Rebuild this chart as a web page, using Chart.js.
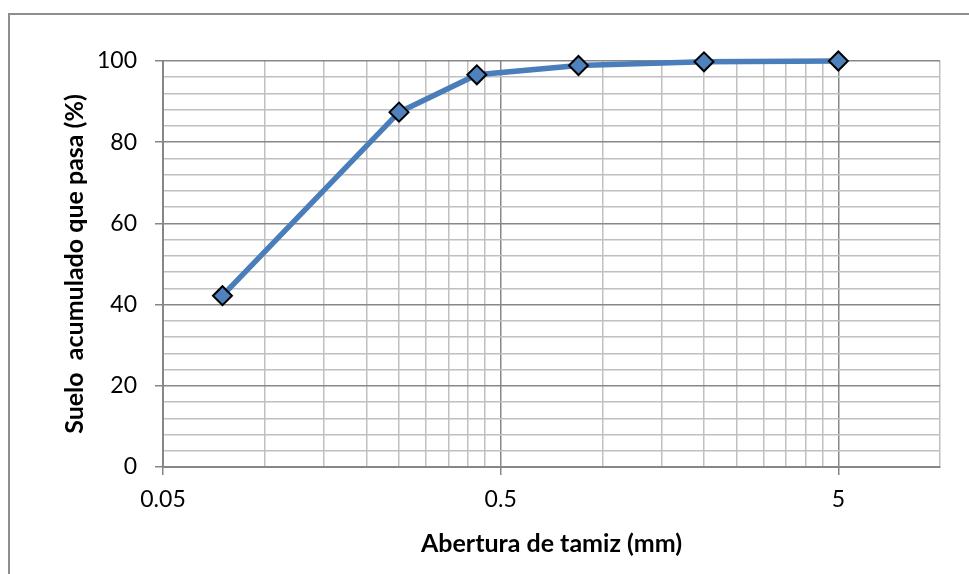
<!DOCTYPE html>
<html lang="es">
  <head>
    <meta charset="UTF-8" />
    <title>Curva granulométrica</title>
    <style>
      * {
        margin: 0;
        padding: 0;
        box-sizing: border-box;
      }

      body {
        width: 969px;
        height: 574px;
        overflow: hidden;
        background: #ffffff;
        position: relative;
      }

      .marco {
        position: absolute;
        left: 8px;
        top: 13px;
        width: 1200px;
        height: 800px;
        border-top: 2px solid #8e8e8e;
        border-left: 2px solid #8e8e8e;
      }

      .grafico {
        position: absolute;
        left: 0;
        top: 0;
        width: 969px;
        height: 574px;
      }
    </style>
  </head>
  <body>
    <div class="marco"></div>
    <div class="grafico">
      <canvas id="myChart" width="969" height="574"></canvas>
    </div>
    <script src="https://cdn.jsdelivr.net/npm/chart.js"></script>
    <script>
      // datos
      const aberturas = [0.075, 0.25, 0.425, 0.85, 2.0, 5.0];
      const pasa = [42.2, 87.4, 96.6, 98.9, 99.8, 100];

      // ticks del eje x (log): mayores con etiqueta y menores sin ella
      const xMayores = [0.05, 0.5, 5];
      const xEtiquetas = ["0.05", "0.5", "5"];
      const xMenores = [
        0.1, 0.15, 0.2, 0.25, 0.3, 0.35, 0.4, 0.45,
        1, 1.5, 2, 2.5, 3, 3.5, 4, 4.5,
        10,
      ];
      const yEtiquetas = [0, 20, 40, 60, 80, 100];

      const fuente = "Lato, 'Noto Sans', sans-serif";
      const grisFuerte = "#878787";
      const grisSuave = "#c0c0c0";

      function esMayorX(v) {
        return xMayores.some((m) => Math.abs(m - v) < 1e-9);
      }
      function esMayorY(v) {
        return yEtiquetas.indexOf(v) !== -1;
      }

      const puntos = aberturas.map((a, i) => ({ x: a, y: pasa[i] }));

      var ctx = document.getElementById("myChart").getContext("2d");
      var miGrafico = new Chart(ctx, {
        type: "line",
        data: {
          datasets: [
            {
              data: puntos,
              borderColor: "#4a7ebb",
              borderWidth: 5.5,
              backgroundColor: "#4f81bd",
              pointStyle: "rectRot",
              pointRadius: 9.5,
              pointBorderColor: "#000000",
              pointBorderWidth: 2,
              tension: 0,
              clip: false,
            },
          ],
        },
        options: {
          responsive: false,
          animation: false,
          layout: {
            padding: { left: 0, right: 29, top: 61, bottom: 0 },
          },
          plugins: {
            legend: { display: false },
            tooltip: { enabled: false },
          },
          scales: {
            x: {
              type: "logarithmic",
              min: 0.05,
              max: 10,
              afterBuildTicks: (scale) => {
                scale.ticks = xMayores
                  .concat(xMenores)
                  .sort((a, b) => a - b)
                  .map((v) => ({ value: v }));
              },
              afterFit: (scale) => {
                scale.height = 107;
              },
              ticks: {
                autoSkip: false,
                maxRotation: 0,
                padding: 11,
                color: "#000000",
                font: { family: fuente, size: 23 },
                callback: function (value) {
                  const i = xMayores.findIndex((m) => Math.abs(m - value) < 1e-9);
                  return i === -1 ? "" : xEtiquetas[i];
                },
              },
              grid: {
                lineWidth: 1.5,
                tickLength: 8,
                color: (c) => (esMayorX(c.tick.value) ? grisFuerte : grisSuave),
                tickColor: (c) =>
                  esMayorX(c.tick.value) ? grisFuerte : "rgba(0,0,0,0)",
              },
              border: { color: grisFuerte, width: 2 },
              title: {
                display: true,
                text: "Abertura de tamiz (mm)",
                color: "#000000",
                font: { family: fuente, size: 25, weight: "bold" },
                padding: { top: 0, bottom: 15 },
              },
            },
            y: {
              min: 0,
              max: 100,
              afterBuildTicks: (scale) => {
                const t = [];
                for (let v = 0; v <= 100; v += 4) t.push({ value: v });
                scale.ticks = t;
              },
              afterFit: (scale) => {
                scale.width = 163;
              },
              ticks: {
                autoSkip: false,
                padding: 18,
                color: "#000000",
                font: { family: fuente, size: 23 },
                callback: (value) => (esMayorY(value) ? String(value) : ""),
              },
              grid: {
                lineWidth: 1.5,
                tickLength: 8,
                color: (c) => (esMayorY(c.tick.value) ? grisFuerte : grisSuave),
                tickColor: (c) =>
                  esMayorY(c.tick.value) ? grisFuerte : "rgba(0,0,0,0)",
              },
              border: { color: grisFuerte, width: 2 },
              title: {
                display: true,
                text: "Suelo  acumulado que pasa (%)",
                color: "#000000",
                font: { family: fuente, size: 25, weight: "bold" },
                padding: { top: 60, bottom: 0 },
              },
            },
          },
        },
      });
    </script>
  </body>
</html>
